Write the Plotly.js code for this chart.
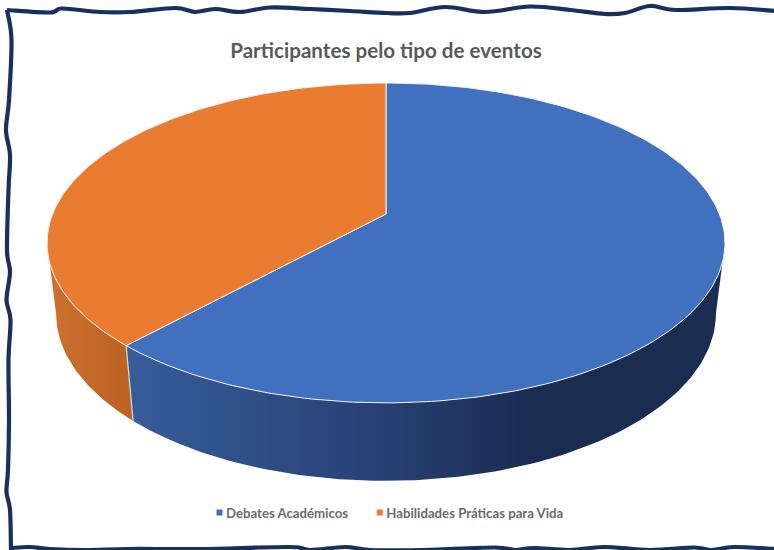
<!DOCTYPE html>
<html>
<head>
<meta charset="utf-8">
<script src="https://cdn.plot.ly/plotly-3.0.1.min.js"></script>
<style>html,body{margin:0;padding:0;background:#fff}#c{width:774px;height:550px}</style>
</head>
<body>
<div id="c"></div>
<script>
// Data
const categories = ['Debates Académicos', 'Habilidades Práticas para Vida'];
const values = [61.8, 38.2];
const colors = ['#4170BF', '#EA7C31'];
const chartTitle = 'Participantes pelo tipo de eventos';

// Hand-drawn frame (decoration, page pixels)
const frameTop = [[7,10],[50,12.5],[62,8.5],[100,12],[130,12],[175,8],[195,12],[215,9],[240,12],[270,7.5],[310,9],[350,11],[387,13],[410,13],[445,7],[485,12],[530,6.5],[570,10],[605,14],[625,13],[650,6],[675,10],[730,8],[776,11]];
const frameLeft = [[7,10],[11.5,40],[9,100],[6,130],[10,155],[8.5,190],[7,250],[10,272],[6.5,300],[10.5,320],[8.5,360],[9,420],[8,470],[6.5,492],[10,510],[11,550]];
const frameBottom = [[11,548],[30,547],[50,549],[85,550],[130,549],[200,549],[290,547],[310,550],[345,547],[370,550],[420,550],[494,547.5],[515,550],[534,548],[570,550],[604,547],[650,550],[694,547.5],[712,550],[734,547],[776,549]];

// 3D projection of the pie disc
const persp = 0.181;
const topRim = {cx:386, cy:214, ax:333.4, by:154.7};
const lowRim = {cx:386, cy:283, ax:324.5, by:162};
function project(deg, rim, r){
  const t = deg*Math.PI/180, X = r*Math.sin(t), Y = r*Math.cos(t), w = 1+persp*Y;
  return [rim.cx + rim.ax*X/w, rim.cy - rim.by*Y/w];
}
function arc(a0, a1, rim){
  const pts = [], n = Math.max(2, Math.ceil(Math.abs(a1-a0)));
  for(let i=0;i<=n;i++) pts.push(project(a0+(a1-a0)*i/n, rim, 1));
  return pts;
}
const total = values.reduce((a,b)=>a+b,0);
const split = 360*values[0]/total;
const tangent = 90 + Math.asin(persp)*180/Math.PI;

function poly(pts, extra){
  return Object.assign({x:pts.map(p=>p[0]), y:pts.map(p=>p[1]), type:'scatter', mode:'lines', fill:'toself',
    showlegend:false, hoverinfo:'skip'}, extra);
}
const sideBlue = poly(arc(tangent, split, topRim).concat(arc(split, tangent, lowRim)), {
  line:{width:0}, fillcolor:'#1a2c50',
  fillgradient:{type:'horizontal', colorscale:[[0,'#365d9b'],[0.437,'#283f72'],[0.675,'#1a2c50'],[1,'#1a2c50']]}
});
const sideOrange = poly(arc(split, 360-tangent, topRim).concat(arc(360-tangent, split, lowRim)), {
  line:{width:0}, fillcolor:'#c26826',
  fillgradient:{type:'horizontal', colorscale:[[0,'#cc7230'],[1,'#bb6224']]}
});
const apex = project(0, topRim, 0);
const topBlue = poly([apex].concat(arc(0, split, topRim), [apex]), {fillcolor:colors[0], line:{color:'#f2f2f2', width:1}});
const topOrange = poly([apex].concat(arc(split, 360, topRim), [apex]), {fillcolor:colors[1], line:{color:'#f2f2f2', width:1}});
const s0 = project(split, topRim, 1), s1 = project(split, lowRim, 1);
const seam = {x:[s0[0],s1[0]], y:[s0[1],s1[1]], type:'scatter', mode:'lines', line:{color:'#d9d9d9', width:1.2}, showlegend:false, hoverinfo:'skip'};
const legendTraces = categories.map((name,i)=>({x:[null], y:[null], type:'scatter', mode:'markers', name,
  marker:{symbol:'square', size:6, color:colors[i]}}));

function smoothPath(pts){
  let d = `M${pts[0][0]},${pts[0][1]}`;
  for(let i=0;i<pts.length-1;i++){
    const p0=pts[Math.max(0,i-1)], p1=pts[i], p2=pts[i+1], p3=pts[Math.min(pts.length-1,i+2)];
    d += ` C${p1[0]+(p2[0]-p0[0])/6},${p1[1]+(p2[1]-p0[1])/6} ${p2[0]-(p3[0]-p1[0])/6},${p2[1]-(p3[1]-p1[1])/6} ${p2[0]},${p2[1]}`;
  }
  return d;
}
const frameShapes = [frameTop, frameLeft, frameBottom].map(p=>({type:'path', path:smoothPath(p), xref:'x', yref:'y', layer:'below',
  line:{color:'#17305d', width:4.2}, fillcolor:'rgba(0,0,0,0)'}));

const layout = {
  width:774, height:550, margin:{l:0,r:0,t:0,b:0,pad:0},
  paper_bgcolor:'#fff', plot_bgcolor:'#fff',
  font:{family:'Lato, sans-serif', color:'#595959'},
  title:{text:'<b>'+chartTitle+'</b>', x:386/774, xanchor:'center', xref:'paper', y:1-51/550, yanchor:'middle', yref:'paper', font:{family:'Lato, sans-serif', size:20.6, color:'#595959'}},
  xaxis:{range:[0,774], visible:false, fixedrange:true},
  yaxis:{range:[550,0], visible:false, fixedrange:true},
  showlegend:true,
  legend:{orientation:'h', x:186/774, xanchor:'left', y:1-513/550, yanchor:'middle',
    font:{family:'Lato, sans-serif', size:13.2, color:'#6a6a6a', weight:700}, bgcolor:'rgba(0,0,0,0)', itemclick:false, itemdoubleclick:false},
  shapes:frameShapes
};
Plotly.newPlot('c', [sideBlue, sideOrange, topBlue, topOrange, seam].concat(legendTraces), layout, {displayModeBar:false, staticPlot:true}).then(()=>{
  document.querySelectorAll('.legend .legendsymbols').forEach(g=>g.setAttribute('transform','translate(13.5,0)'));
  const items = document.querySelectorAll('.legend .traces');
  const m = /translate\(([-\d.]+)[ ,]+([-\d.]+)\)/.exec(items[1].getAttribute('transform'));
  if(m) items[1].setAttribute('transform', `translate(${parseFloat(m[1])-7},${m[2]})`);
});
</script>
</body>
</html>
